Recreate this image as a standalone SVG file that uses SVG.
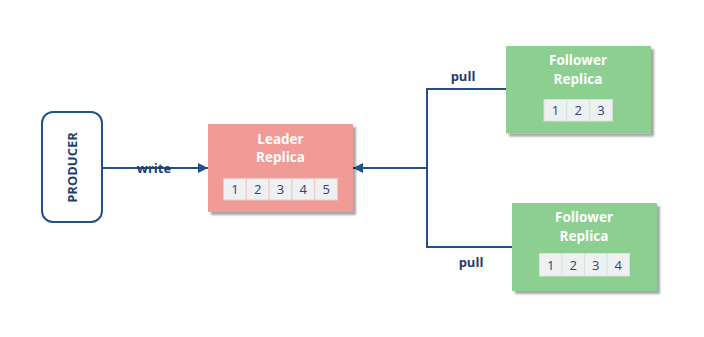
<svg xmlns="http://www.w3.org/2000/svg" width="704" height="337" viewBox="0 0 704 337">
  <style>
    .edge { fill: none; stroke: #24508a; stroke-width: 2; }
    .title { font-family: "Open Sans", "Noto Sans", sans-serif; font-weight: bold; font-size: 13.5px; fill: #ffffff; text-anchor: middle; }
    .lbl { font-family: "Open Sans", "Noto Sans", sans-serif; font-weight: bold; font-size: 13px; fill: #1f3e70; text-anchor: middle; }
    .cell { fill: #eef0f2; stroke-width: 1; }
    .num { font-family: "Open Sans", "Noto Sans", sans-serif; font-size: 13px; fill: #2b4475; text-anchor: middle; }
    .leader { fill: #f19b96; }
    .follower { fill: #8ccf91; }
  </style>
  <defs>
    <filter id="shadow" x="-10%" y="-10%" width="130%" height="130%">
      <feDropShadow dx="3" dy="3" stdDeviation="1" flood-color="#000" flood-opacity="0.35"/>
    </filter>
    <marker id="arrow" viewBox="0 0 10 10" refX="10" refY="5" markerWidth="10" markerHeight="10" markerUnits="userSpaceOnUse" orient="auto">
      <path d="M0,0 L10,5 L0,10 Z" fill="#24508a"/>
    </marker>
  </defs>

  <rect width="704" height="337" fill="#ffffff"/>

  <!-- connectors -->
  <g id="connectors">
    <path class="edge" d="M101,168 L208,168" marker-end="url(#arrow)"/>
    <path class="edge" d="M506,89 L427,89 L427,247 L512,247"/>
    <path class="edge" d="M427,168 L353,168" marker-end="url(#arrow)"/>
    <text class="lbl" x="154" y="173">write</text>
    <text class="lbl" x="463" y="81">pull</text>
    <text class="lbl" x="471" y="267">pull</text>
  </g>

  <!-- producer -->
  <g id="producer">
    <rect x="42" y="112" width="60" height="110" rx="11" ry="11" fill="#ffffff" stroke="#24508a" stroke-width="2"/>
    <text class="lbl" transform="translate(76.5,167.5) rotate(-90)">PRODUCER</text>
  </g>

  <!-- leader replica -->
  <g id="leader">
    <rect class="leader" x="208" y="124" width="145" height="88" filter="url(#shadow)"/>
    <text class="title" x="280.5" y="144">Leader</text>
    <text class="title" x="280.5" y="162">Replica</text>
    <g stroke="#f0c9c5">
      <rect class="cell" x="223.5" y="178.5" width="22.8" height="21.5"/>
      <rect class="cell" x="246.3" y="178.5" width="22.8" height="21.5"/>
      <rect class="cell" x="269.1" y="178.5" width="22.8" height="21.5"/>
      <rect class="cell" x="291.9" y="178.5" width="22.8" height="21.5"/>
      <rect class="cell" x="314.7" y="178.5" width="22.8" height="21.5"/>
    </g>
    <text class="num" x="234.9" y="194">1</text>
    <text class="num" x="257.7" y="194">2</text>
    <text class="num" x="280.5" y="194">3</text>
    <text class="num" x="303.3" y="194">4</text>
    <text class="num" x="326.1" y="194">5</text>
  </g>

  <!-- follower replica 1 -->
  <g id="follower1">
    <rect class="follower" x="506" y="46" width="145" height="87.5" filter="url(#shadow)"/>
    <text class="title" x="578" y="65">Follower</text>
    <text class="title" x="578" y="83.5">Replica</text>
    <g stroke="#d4e6d6">
      <rect class="cell" x="544" y="99.5" width="22.8" height="21.5"/>
      <rect class="cell" x="566.8" y="99.5" width="22.8" height="21.5"/>
      <rect class="cell" x="589.6" y="99.5" width="22.8" height="21.5"/>
    </g>
    <text class="num" x="555.4" y="115">1</text>
    <text class="num" x="578.2" y="115">2</text>
    <text class="num" x="601" y="115">3</text>
  </g>

  <!-- follower replica 2 -->
  <g id="follower2">
    <rect class="follower" x="512" y="203" width="145" height="88" filter="url(#shadow)"/>
    <text class="title" x="584" y="222">Follower</text>
    <text class="title" x="584" y="241">Replica</text>
    <g stroke="#d4e6d6">
      <rect class="cell" x="539.5" y="253.5" width="22.5" height="22.5"/>
      <rect class="cell" x="562" y="253.5" width="22.5" height="22.5"/>
      <rect class="cell" x="584.5" y="253.5" width="22.5" height="22.5"/>
      <rect class="cell" x="607" y="253.5" width="22.5" height="22.5"/>
    </g>
    <text class="num" x="550.8" y="269.5">1</text>
    <text class="num" x="573.3" y="269.5">2</text>
    <text class="num" x="595.8" y="269.5">3</text>
    <text class="num" x="618.3" y="269.5">4</text>
  </g>
</svg>
